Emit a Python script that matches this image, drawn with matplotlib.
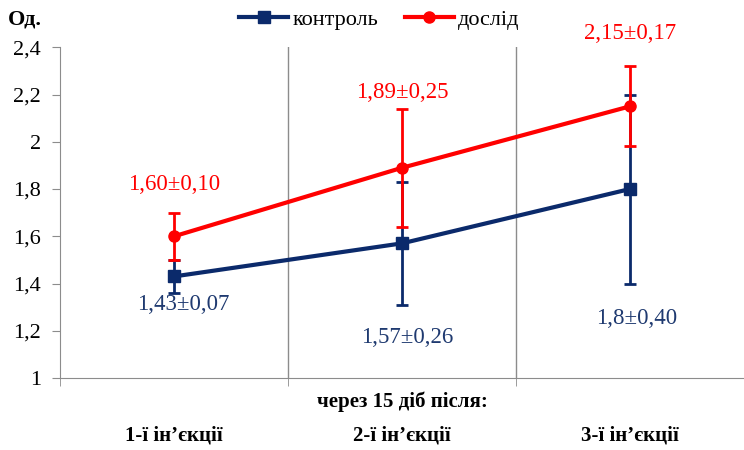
import matplotlib.pyplot as plt
import matplotlib.transforms as mtransforms
from matplotlib.lines import Line2D

plt.rcParams['font.family'] = ['Liberation Serif', 'DejaVu Serif']

# data
categories = ["1-ї ін’єкції", "2-ї ін’єкції", "3-ї ін’єкції"]
control = [1.43, 1.57, 1.80]
control_err = [0.07, 0.26, 0.40]
control_labels = ["1,43±0,07", "1,57±0,26", "1,8±0,40"]
test = [1.60, 1.89, 2.15]
test_err = [0.10, 0.25, 0.17]
test_labels = ["1,60±0,10", "1,89±0,25", "2,15±0,17"]

blue = "#0B2A6B"
red = "#FF0000"
grey = "#8C8C8C"

fig = plt.figure(figsize=(7.44, 4.5), dpi=100)
ax = fig.add_axes([0.081, 0.16, 0.919, 0.735])

x = list(range(len(categories)))

ax.errorbar(x, control, yerr=control_err, color=blue, lw=3, marker="s", ms=8,
            elinewidth=2, capsize=4, capthick=2, zorder=3)
ax.errorbar(x, test, yerr=test_err, color=red, lw=3, marker="o", ms=8,
            elinewidth=2, capsize=4, capthick=2, zorder=4)

# value labels
for i, lab in enumerate(control_labels):
    ax.text(x[i] + [0.04, 0.02, 0.03][i], control[i] + [-0.12, -0.40, -0.55][i], lab,
            color="#1F3A70", fontsize=16.5, ha="center", va="center")
for i, lab in enumerate(test_labels):
    ax.text(x[i], test[i] + [0.22, 0.32, 0.31][i], lab,
            color=red, fontsize=16.5, ha="center", va="center")

ax.set_xlim(-0.5, 2.5)
ax.set_ylim(1, 2.4)
ax.set_yticks([1, 1.2, 1.4, 1.6, 1.8, 2, 2.2, 2.4])
ax.set_yticklabels(["1", "1,2", "1,4", "1,6", "1,8", "2", "2,2", "2,4"], fontsize=16)
ax.tick_params(axis="y", direction="out", length=6, color=grey, pad=8)

ax.set_xticks(x)
ax.set_xticklabels(categories, fontsize=15, fontweight="bold")
ax.tick_params(axis="x", length=0, pad=34)
ax.set_xticks([-0.5, 0.5, 1.5, 2.5], minor=True)
ax.tick_params(axis="x", which="minor", direction="out", length=6, color=grey)

for b in [0.5, 1.5]:
    ax.axvline(b, color=grey, lw=1, zorder=1)

for s in ["top", "right"]:
    ax.spines[s].set_visible(False)
ax.spines["left"].set_color(grey)
ax.spines["bottom"].set_color(grey)

trans = mtransforms.blended_transform_factory(ax.transData, fig.transFigure)
ax.text(1, 1 - 402 / 450, "через 15 діб після:", transform=trans, fontsize=15,
        fontweight="bold", ha="center", va="center")

fig.text(0.011, 1 - 20 / 450, "Од.", fontsize=16, fontweight="bold", va="center")

handles = [Line2D([], [], color=blue, lw=3, marker="s", ms=8),
           Line2D([], [], color=red, lw=3, marker="o", ms=8)]
ax.legend(handles, ["контроль", "дослід"], loc="center",
          bbox_to_anchor=(0.51, 1 - 20 / 450), bbox_transform=fig.transFigure,
          ncol=2, frameon=False, fontsize=16, handlelength=2.2, columnspacing=1.2,
          handletextpad=0.2)

fig.savefig("out.png", dpi=100)
